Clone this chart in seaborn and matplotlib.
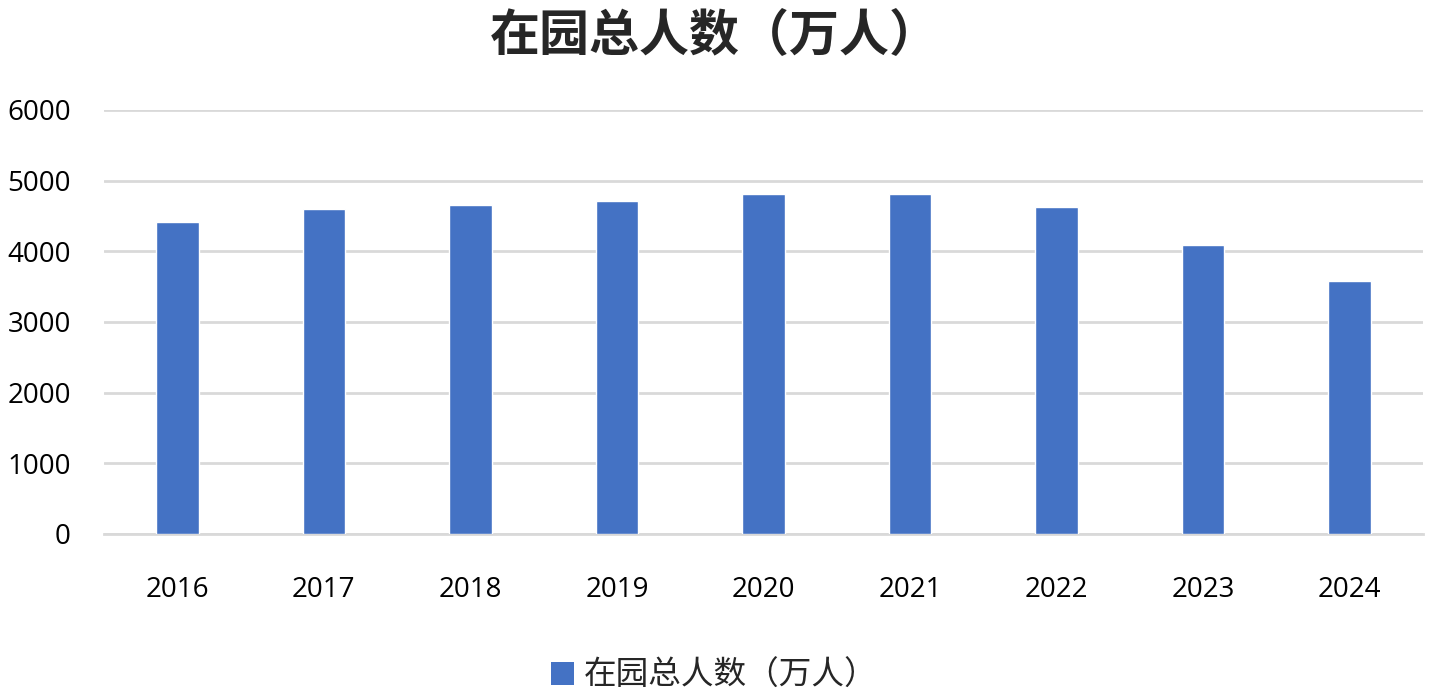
import matplotlib
matplotlib.use("Agg")
import matplotlib.pyplot as plt
import seaborn as sns
import pandas as pd
from matplotlib.patches import Patch

years = ["2016", "2017", "2018", "2019", "2020", "2021", "2022", "2023", "2024"]
values = [4414, 4600, 4656, 4714, 4818, 4805, 4628, 4093, 3584]
yticks = [0, 1000, 2000, 3000, 4000, 5000, 6000]
series_name = "在园总人数（万人）"

sns.set_theme(style="white")
plt.rcParams['font.family'] = ['Open Sans', 'Noto Sans CJK SC', 'DejaVu Sans']

df = pd.DataFrame({"year": years, "value": values})

fig = plt.figure(figsize=(14.29, 6.97), dpi=100)
ax = fig.add_axes([0.0728, 0.2339, 0.9230, 0.6083])

sns.barplot(data=df, x="year", y="value", color="#4472C4", width=0.29,
            saturation=1, ax=ax, zorder=3)

ax.set_xlim(-0.5, len(years) - 0.5)
ax.set_ylim(0, 6000)
ax.set_yticks(yticks)
ax.set_yticklabels([str(t) for t in yticks])
ax.yaxis.grid(True, color="#d9d9d9", linewidth=2, zorder=0)
ax.set_axisbelow(True)
for s in ["top", "right", "left"]:
    ax.spines[s].set_visible(False)
ax.spines["bottom"].set_color("#d9d9d9")
ax.spines["bottom"].set_linewidth(2)
ax.set_xlabel("")
ax.set_ylabel("")
ax.tick_params(axis="both", length=0, labelsize=20, colors="black")
ax.tick_params(axis="y", pad=24)
ax.tick_params(axis="x", pad=30)

fig.text(0.5, 0.948, series_name, ha="center", va="center", fontsize=36,
         fontweight="bold", family=['Noto Sans CJK SC', 'DejaVu Sans'])

handles = [Patch(facecolor="#4472C4", edgecolor="none")]
fig.legend(handles, [series_name], loc="center", bbox_to_anchor=(0.5, 0.03),
           frameon=False, handlelength=0.7, handleheight=0.7, handletextpad=0.3,
           prop={'family': ['Noto Sans CJK SC', 'DejaVu Sans'], 'size': 23.5})

fig.savefig("out.png", dpi=100)
